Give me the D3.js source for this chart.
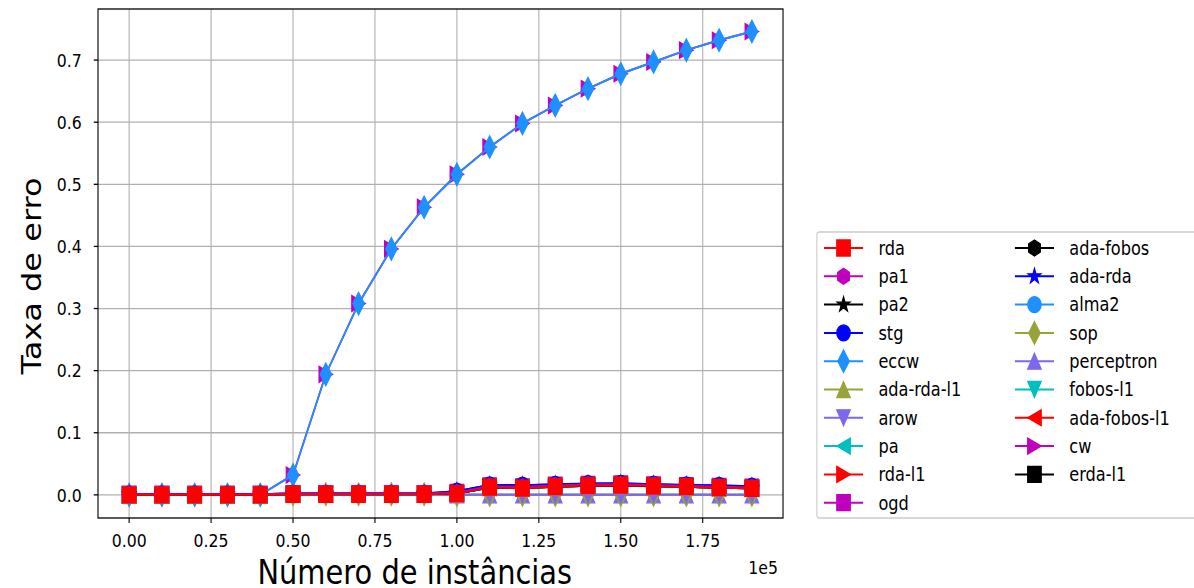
<!DOCTYPE html>
<meta charset="utf-8">
<title>Taxa de erro</title>
<style>
  body { margin: 0; background: #fff; }
  text { font-family: "DejaVu Sans", sans-serif; fill: #000; }
</style>
<body>
<script src="https://cdn.jsdelivr.net/npm/d3@7"></script>
<script>
// data ------------------------------------------------------------
var instances = [0, 10000, 20000, 30000, 40000, 50000, 60000, 70000, 80000, 90000,
                 100000, 110000, 120000, 130000, 140000, 150000, 160000, 170000, 180000, 190000];
var xTicks = [0, 25000, 50000, 75000, 100000, 125000, 150000, 175000];
var yTicks = [0, 0.1, 0.2, 0.3, 0.4, 0.5, 0.6, 0.7];

var cwErr   = [0, 0, 0, 0, 0, 0.032, 0.194, 0.308, 0.396, 0.463, 0.516, 0.560, 0.598, 0.627, 0.654, 0.678, 0.697, 0.716, 0.732, 0.746];
var eccwErr = [0, 0, 0, 0, 0, 0.032, 0.194, 0.308, 0.396, 0.463, 0.516, 0.560, 0.598, 0.627, 0.654, 0.678, 0.697, 0.716, 0.732, 0.746];
var rdaErr  = [0, 0, 0, 0, 0, 0.001, 0.001, 0.001, 0.001, 0.001, 0.002, 0.0124, 0.011, 0.0135, 0.015, 0.0156, 0.0143, 0.0132, 0.0116, 0.0105];
var stgErr  = [0.001, 0.001, 0.001, 0.001, 0.001, 0.002, 0.002, 0.002, 0.002, 0.002, 0.006, 0.016, 0.0155, 0.017, 0.0182, 0.0185, 0.0172, 0.016, 0.0152, 0.014];
var adaRdaErr = [0.001, 0.001, 0.001, 0.001, 0.001, 0.002, 0.002, 0.002, 0.002, 0.002, 0.006, 0.0158, 0.0153, 0.0168, 0.018, 0.0183, 0.017, 0.0158, 0.015, 0.0138];
var ogdErr  = [0.001, 0.001, 0.001, 0.001, 0.001, 0.002, 0.002, 0.002, 0.002, 0.002, 0.004, 0.0145, 0.013, 0.0155, 0.017, 0.0175, 0.016, 0.015, 0.0135, 0.0125];
var pa1Err  = [0.001, 0.001, 0.001, 0.001, 0.001, 0.002, 0.002, 0.002, 0.002, 0.002, 0.004, 0.014, 0.0128, 0.015, 0.0165, 0.017, 0.0158, 0.0146, 0.0132, 0.012];
var pa2Err  = [0, 0, 0, 0, 0, 0.001, 0.001, 0.001, 0.001, 0.001, 0.002, 0.012, 0.011, 0.013, 0.0145, 0.015, 0.014, 0.013, 0.0115, 0.0105];
var paErr   = [0, 0, 0, 0, 0, 0.001, 0.001, 0.001, 0.001, 0.001, 0.002, 0.012, 0.011, 0.013, 0.0145, 0.015, 0.014, 0.013, 0.0115, 0.0105];
var rdaL1Err = [0, 0, 0, 0, 0, 0.001, 0.001, 0.001, 0.001, 0.001, 0.002, 0.012, 0.011, 0.013, 0.0145, 0.015, 0.014, 0.013, 0.0115, 0.0105];
var adaRdaL1Err = [0, 0, 0, 0, 0, 0.001, 0.001, 0.001, 0.001, 0.001, 0.002, 0.012, 0.011, 0.013, 0.0145, 0.015, 0.014, 0.013, 0.0115, 0.0105];
var adaFobosErr = [0, 0, 0, 0, 0, 0.001, 0.001, 0.001, 0.001, 0.001, 0.002, 0.012, 0.011, 0.013, 0.0145, 0.015, 0.014, 0.013, 0.0115, 0.0105];
var alma2Err = [0, 0, 0, 0, 0, 0.001, 0.001, 0.001, 0.001, 0.001, 0.002, 0.012, 0.011, 0.013, 0.0145, 0.015, 0.014, 0.013, 0.0115, 0.0105];
var adaFobosL1Err = [0, 0, 0, 0, 0, 0.001, 0.001, 0.001, 0.001, 0.001, 0.002, 0.012, 0.011, 0.013, 0.0145, 0.015, 0.014, 0.013, 0.0115, 0.0105];
var erdaL1Err = [0, 0, 0, 0, 0, 0.001, 0.001, 0.001, 0.001, 0.001, 0.002, 0.0124, 0.011, 0.0135, 0.015, 0.0156, 0.0143, 0.0132, 0.0116, 0.0105];
var arowErr = [0, 0, 0, 0, 0, 0.001, 0.001, 0.001, 0.001, 0.001, 0, 0, 0, 0, 0, 0, 0, 0, 0, 0];
var sopErr  = [0, 0, 0, 0, 0, 0.001, 0.001, 0.001, 0.001, 0.001, 0, 0, 0, 0, 0, 0, 0, 0, 0, 0];
var perceptronErr = [0, 0, 0, 0, 0, 0.001, 0.001, 0.001, 0.001, 0.001, 0, 0, 0, 0, 0, 0, 0, 0, 0, 0];
var fobosL1Err = [0, 0, 0, 0, 0, 0.001, 0.001, 0.001, 0.001, 0.001, 0, 0, 0, 0, 0, 0, 0, 0, 0, 0];

var names = ['rda', 'pa1', 'pa2', 'stg', 'eccw', 'ada-rda-l1', 'arow', 'pa', 'rda-l1', 'ogd',
             'ada-fobos', 'ada-rda', 'alma2', 'sop', 'perceptron', 'fobos-l1', 'ada-fobos-l1', 'cw', 'erda-l1'];
var colors = ['#ff0000', '#bf00bf', '#000000', '#0000ff', '#1e90ff', '#98a43a', '#7b68ee', '#00bfbf', '#ff0000', '#bf00bf',
              '#000000', '#0000ff', '#1e90ff', '#98a43a', '#7b68ee', '#00bfbf', '#ff0000', '#bf00bf', '#000000'];
var markers = ['s', 'h', '*', 'o', 'd', '^', 'v', '<', '>', 's',
               'h', '*', 'o', 'd', '^', 'v', '<', '>', 's'];
var values = [rdaErr, pa1Err, pa2Err, stgErr, eccwErr, adaRdaL1Err, arowErr, paErr, rdaL1Err, ogdErr,
              adaFobosErr, adaRdaErr, alma2Err, sopErr, perceptronErr, fobosL1Err, adaFobosL1Err, cwErr, erdaL1Err];

// layout (the reference is squeezed horizontally, draw wide then scale) --
var W = 1194, H = 588, squeeze = 0.85;
var pLeft = 115.3, pRight = 921.2, pTop = 9, pBottom = 518;
var ms = 16;

var svg = d3.select('body').append('svg')
    .attr('width', W)
    .attr('height', H);
var g = svg.append('g').attr('transform', 'scale(' + squeeze + ',1)');

var x = d3.scaleLinear().domain([-9500, 199500]).range([pLeft, pRight]);
var y = d3.scaleLinear().domain([-0.03725, 0.78225]).range([pBottom, pTop]);

function markerPath(m, s) {
  var h = s / 2;
  if (m == 's') return 'M' + -h + ',' + -h + 'H' + h + 'V' + h + 'H' + -h + 'Z';
  if (m == '^') return 'M0,' + -h + 'L' + h + ',' + h + 'L' + -h + ',' + h + 'Z';
  if (m == 'v') return 'M0,' + h + 'L' + h + ',' + -h + 'L' + -h + ',' + -h + 'Z';
  if (m == '<') return 'M' + -h + ',0L' + h + ',' + -h + 'L' + h + ',' + h + 'Z';
  if (m == '>') return 'M' + h + ',0L' + -h + ',' + -h + 'L' + -h + ',' + h + 'Z';
  if (m == 'd') return 'M0,' + (-0.707 * s) + 'L' + (0.424 * s) + ',0L0,' + (0.707 * s) + 'L' + (-0.424 * s) + ',0Z';
  if (m == 'o') return d3.arc()({innerRadius: 0, outerRadius: h, startAngle: 0, endAngle: 2 * Math.PI});
  var pts = [];
  if (m == 'h') {
    for (var k = 0; k < 6; k++) {
      var a = -Math.PI / 2 + k * Math.PI / 3;
      pts.push([h * Math.cos(a), h * Math.sin(a)]);
    }
  } else { // star
    for (var k = 0; k < 10; k++) {
      var a = -Math.PI / 2 + k * Math.PI / 5;
      var r = k % 2 ? h * 0.381966 : h;
      pts.push([r * Math.cos(a), r * Math.sin(a)]);
    }
  }
  return 'M' + pts.join('L') + 'Z';
}

// grid ---------------------------------------------------------------
g.selectAll('.vgrid').data(xTicks).enter().append('line')
    .attr('x1', d => x(d)).attr('x2', d => x(d))
    .attr('y1', pTop).attr('y2', pBottom)
    .style('stroke', '#b0b0b0').style('stroke-width', 1.3);
g.selectAll('.hgrid').data(yTicks).enter().append('line')
    .attr('x1', pLeft).attr('x2', pRight)
    .attr('y1', d => y(d)).attr('y2', d => y(d))
    .style('stroke', '#b0b0b0').style('stroke-width', 1.3);

// series, last legend entry drawn first --------------------------------
g.append('clipPath').attr('id', 'plotclip').append('rect')
    .attr('x', pLeft).attr('y', pTop).attr('width', pRight - pLeft).attr('height', pBottom - pTop);
var plot = g.append('g').attr('clip-path', 'url(#plotclip)');
var line = d3.line().x((d, i) => x(instances[i])).y(d => y(d));

for (var i = names.length - 1; i >= 0; i--) {
  plot.append('path')
      .attr('d', line(values[i]))
      .style('fill', 'none')
      .style('stroke', colors[i])
      .style('stroke-width', 2);
  plot.selectAll('.m' + i).data(values[i]).enter().append('path')
      .attr('transform', (d, j) => 'translate(' + x(instances[j]) + ',' + y(d) + ')')
      .attr('d', markerPath(markers[i], ms))
      .style('fill', colors[i])
      .style('stroke', colors[i])
      .style('stroke-width', 1.3);
}

// axes ---------------------------------------------------------------
g.append('rect')
    .attr('x', pLeft).attr('y', pTop).attr('width', pRight - pLeft).attr('height', pBottom - pTop)
    .style('fill', 'none').style('stroke', '#000').style('stroke-width', 1.3);

g.selectAll('.xt').data(xTicks).enter().append('line')
    .attr('x1', d => x(d)).attr('x2', d => x(d))
    .attr('y1', pBottom).attr('y2', pBottom + 5)
    .style('stroke', '#000').style('stroke-width', 1.3);
g.selectAll('.xl').data(xTicks).enter().append('text')
    .attr('x', d => x(d)).attr('y', 547)
    .attr('text-anchor', 'middle')
    .style('font-size', '18.5px')
    .text(d => (d / 1e5).toFixed(2));

g.selectAll('.yt').data(yTicks).enter().append('line')
    .attr('x1', pLeft - 5).attr('x2', pLeft)
    .attr('y1', d => y(d)).attr('y2', d => y(d))
    .style('stroke', '#000').style('stroke-width', 1.3);
g.selectAll('.yl').data(yTicks).enter().append('text')
    .attr('x', pLeft - 19).attr('y', d => y(d))
    .attr('dy', '0.36em')
    .attr('text-anchor', 'end')
    .style('font-size', '18.5px')
    .text(d => d.toFixed(1));

g.append('text')
    .attr('x', pRight - 6).attr('y', 574)
    .attr('text-anchor', 'end')
    .style('font-size', '18.5px')
    .text('1e5');

g.append('text')
    .attr('x', 488).attr('y', 584)
    .attr('text-anchor', 'middle')
    .style('font-size', '34px')
    .text('Número de instâncias');

g.append('text')
    .attr('transform', 'translate(48,276) rotate(-90)')
    .attr('text-anchor', 'middle')
    .style('font-size', '32px')
    .text('Taxa de erro');

// legend -------------------------------------------------------------
g.append('rect')
    .attr('x', 961).attr('y', 232).attr('width', 500).attr('height', 286)
    .attr('rx', 3)
    .style('fill', '#fff').style('stroke', '#cccccc').style('stroke-width', 1.3);

for (var i = 0; i < names.length; i++) {
  var col = i < 10 ? 0 : 1, row = i < 10 ? i : i - 10;
  var lx = col ? 1194 : 969.4, ly = 248 + row * 28.3;
  g.append('line')
      .attr('x1', lx).attr('x2', lx + 46)
      .attr('y1', ly).attr('y2', ly)
      .style('stroke', colors[i]).style('stroke-width', 2);
  g.append('path')
      .attr('transform', 'translate(' + (lx + 23) + ',' + ly + ')')
      .attr('d', markerPath(markers[i], ms))
      .style('fill', colors[i]).style('stroke', colors[i]).style('stroke-width', 1.3);
  g.append('text')
      .attr('x', lx + 64).attr('y', ly)
      .attr('dy', '0.36em')
      .style('font-size', '19px')
      .text(names[i]);
}
</script>
</body>
